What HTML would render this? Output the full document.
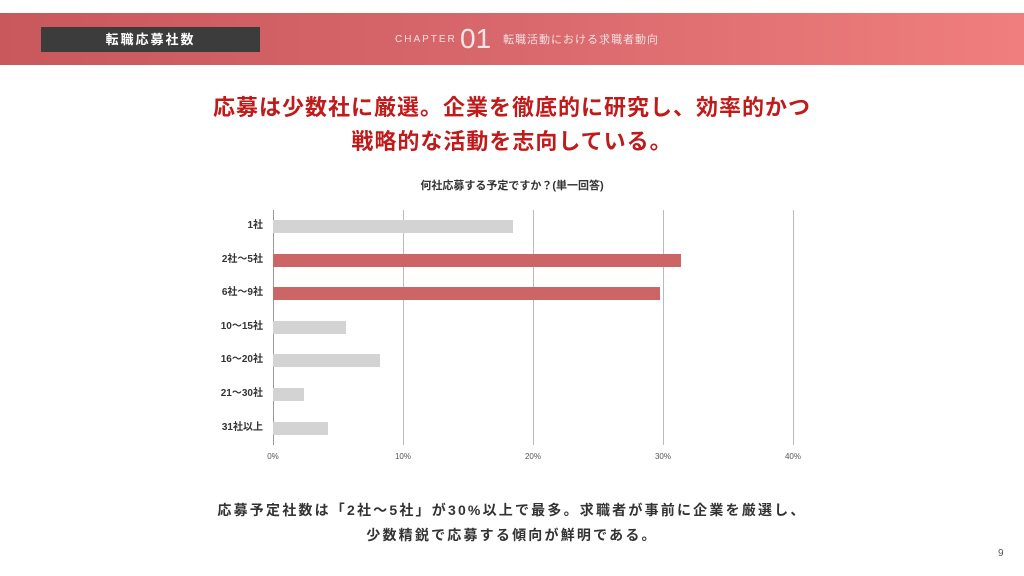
<!DOCTYPE html>
<html><head><meta charset="utf-8"><style>
body{margin:0;width:1024px;height:576px;background:#fff;position:relative;overflow:hidden;font-family:"Liberation Sans","Noto Sans CJK JP",sans-serif}
.band{position:absolute;left:0;top:13px;width:1024px;height:52px;background:linear-gradient(90deg,#c9585c 0%,#d8686c 50%,#f07e7e 100%)}
.tag{position:absolute;left:41px;top:27px;width:219px;height:25px;background:#3c3c3c;color:#fff;font-size:13px;font-weight:bold;letter-spacing:2px;text-align:center;line-height:25px}
.ch{position:absolute;left:395px;top:28px;color:#f6dede;font-size:10px;letter-spacing:2px;line-height:24px}
.num{position:absolute;left:460px;top:23px;color:#f6e6e6;font-size:28px;font-weight:200;line-height:32px}
.sub{position:absolute;left:503px;top:28px;color:#f6e0e0;font-size:11px;letter-spacing:1px;line-height:24px}
.t{position:absolute;left:0;width:1024px;text-align:center;color:#c01a1a;font-weight:bold;font-size:22px;letter-spacing:1px}
.ct{position:absolute;left:0;width:1024px;text-align:center;top:177px;font-size:11px;font-weight:bold;color:#333}
.lab{position:absolute;right:761px;font-size:10px;font-weight:bold;color:#333;line-height:14px}
.bar{position:absolute;left:273px;height:13px;background:#d3d3d3}
.r{background:#cc6666}
.g{position:absolute;top:210px;height:235px;width:1px;background:#bbb}
.xt{position:absolute;top:452px;font-size:8px;color:#555;width:40px;margin-left:-20px;text-align:center}
.bt{position:absolute;left:0;width:1024px;text-align:center;font-size:14px;font-weight:bold;color:#333;letter-spacing:2.2px}
</style></head><body>
<div class="band"></div>
<div class="tag">転職応募社数</div>
<div class="ch">CHAPTER</div><div class="num">01</div><div class="sub">転職活動における求職者動向</div>
<div class="t" style="top:90px">応募は少数社に厳選。企業を徹底的に研究し、効率的かつ</div>
<div class="t" style="top:124px">戦略的な活動を志向している。</div>
<div class="ct">何社応募する予定ですか？(単一回答)</div>
<div class="g" style="left:273px;background:#999"></div>
<div class="g" style="left:403px"></div><div class="g" style="left:533px"></div><div class="g" style="left:663px"></div><div class="g" style="left:793px"></div>
<div class="bar" style="top:220px;width:240px"></div>
<div class="bar r" style="top:254px;width:408px"></div>
<div class="bar r" style="top:287px;width:387px"></div>
<div class="bar" style="top:321px;width:73px"></div>
<div class="bar" style="top:354px;width:107px"></div>
<div class="bar" style="top:388px;width:31px"></div>
<div class="bar" style="top:422px;width:55px"></div>
<div class="lab" style="top:219px">1社</div>
<div class="lab" style="top:253px">2社～5社</div>
<div class="lab" style="top:286px">6社～9社</div>
<div class="lab" style="top:320px">10～15社</div>
<div class="lab" style="top:353px">16～20社</div>
<div class="lab" style="top:387px">21～30社</div>
<div class="lab" style="top:421px">31社以上</div>
<div class="xt" style="left:273px">0%</div><div class="xt" style="left:403px">10%</div><div class="xt" style="left:533px">20%</div><div class="xt" style="left:663px">30%</div><div class="xt" style="left:793px">40%</div>
<div class="bt" style="top:500px">応募予定社数は「2社～5社」が30%以上で最多。求職者が事前に企業を厳選し、</div>
<div class="bt" style="top:525px">少数精鋭で応募する傾向が鮮明である。</div>
<div style="position:absolute;left:998px;top:548px;font-size:10px;color:#555">9</div>
</body></html>
